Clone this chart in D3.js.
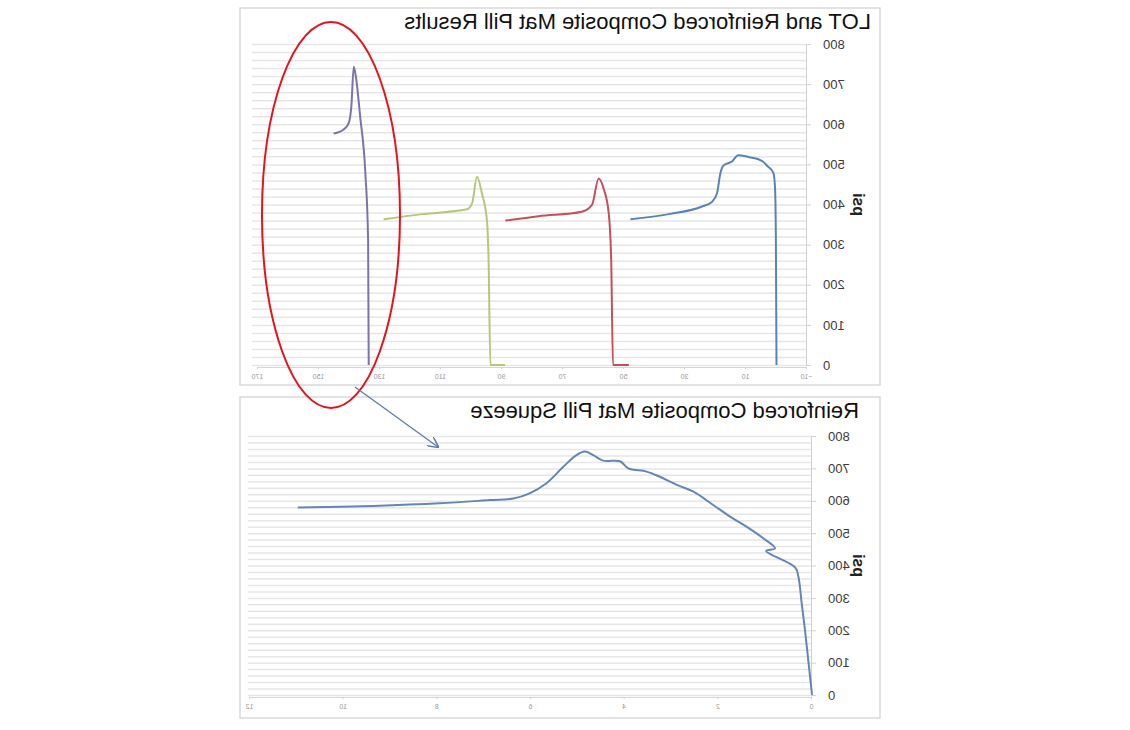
<!DOCTYPE html>
<html>
<head>
<meta charset="utf-8">
<script src="https://cdn.jsdelivr.net/npm/d3@7/dist/d3.min.js"></script>
<style>
  body { margin: 0; background: #fff; }
  text { font-family: "Liberation Sans", Arial, sans-serif; }
</style>
</head>
<body>
<svg id="chart" width="1130" height="730"></svg>
<script>
// values, [x, psi]
const blueRun = [[0,0],[0.2,312],[0.5,444],[1,478],[3,496],[4.8,509],[9,518],[12.6,523],[14.6,507],
  [17.3,498],[18.4,478],[19.5,428],[21.1,407],[24.4,395],[35.3,376],[47.9,363]];
const redRun = [[48.4,0],[53.6,0],[54.2,262],[55,378],[56.7,440],[58.3,465],[60.5,399],[63.8,382],
  [78,371],[88.9,360]];
const greenRun = [[89,0],[93.8,0],[94.4,262],[94.9,357],[96.6,428],[98.2,469],[99.8,403],[101.5,388],
  [116.2,376],[128.8,363]];
const purpleRun = [[133.7,0],[133.9,312],[134.8,478],[136.5,619],[137.9,718],[138.6,743],[139.4,644],
  [140.3,602],[141.9,587],[145.2,577]];

const squeeze = [[0,0],[0.01,15],[0.08,108],[0.15,201],[0.22,283],[0.29,365],[0.36,394],[0.98,445],
  [0.79,453],[1.04,484],[1.4,520],[1.75,551],[2.11,587],[2.53,628],[2.82,645],[3.03,659],[3.25,674],
  [3.53,690],[3.92,700],[4.1,722],[4.46,724],[4.67,741],[4.85,752],[5.03,741],[5.31,705],[5.67,654],
  [6.03,623],[6.38,607],[6.88,602],[7.95,592],[9.37,584],[10.98,579]];

const topXTicks = [-10, 10, 30, 50, 70, 90, 110, 130, 150, 170];
const bottomXTicks = [0, 2, 4, 6, 8, 10, 12];
const psiTicks = [0, 100, 200, 300, 400, 500, 600, 700, 800];

const topTitle = "LOT and Reinforced Composite Mat Pill Results";
const bottomTitle = "Reinforced Composite Mat Pill Squeeze";

const svg = d3.select("#chart");
// the reference is a mirrored copy, so draw normally then flip
const root = svg.append("g").attr("transform", "translate(1130,0) scale(-1,1)");

function panel(cfg) {
  const g = root.append("g");
  g.append("rect")
    .attr("x", cfg.box[0]).attr("y", cfg.box[1])
    .attr("width", cfg.box[2] - cfg.box[0]).attr("height", cfg.box[3] - cfg.box[1])
    .attr("fill", "#fff").attr("stroke", "#cfcfcf").attr("stroke-width", 1.2);

  const x = d3.scaleLinear().domain(cfg.xDomain).range(cfg.xRange);
  const y = d3.scaleLinear().domain([0, 800]).range(cfg.yRange);

  // minor gridlines every 20 psi
  g.append("g")
    .attr("transform", `translate(${cfg.xRange[0]},0)`)
    .call(d3.axisLeft(y).ticks(40).tickSize(-(cfg.gridEnd - cfg.xRange[0])).tickFormat(""))
    .call(a => a.select(".domain").remove())
    .call(a => a.selectAll("line").attr("stroke", "#e6e6e6").attr("stroke-width", 1.5));

  g.append("g")
    .attr("transform", `translate(${cfg.xRange[0]},0)`)
    .call(d3.axisLeft(y).tickValues(psiTicks).tickSize(4).tickPadding(12))
    .call(a => a.select(".domain").attr("stroke", "#d0d0d0"))
    .call(a => a.selectAll("line").attr("stroke", "#d0d0d0"))
    .call(a => a.selectAll("text").attr("font-size", 13).attr("fill", "#3a3a3a"));

  g.append("g")
    .attr("transform", `translate(0,${cfg.yRange[0] + 2})`)
    .call(d3.axisBottom(x).tickValues(cfg.xTicks).tickSize(2).tickPadding(5))
    .call(a => a.select(".domain").attr("stroke", "#d6d6d6"))
    .call(a => a.selectAll("line").attr("stroke", "#d0d0d0"))
    .call(a => a.selectAll("text").attr("font-size", 7).attr("fill", "#9a9a9a"));

  g.append("text")
    .attr("transform", `translate(${cfg.psiX},${(cfg.yRange[0] + cfg.yRange[1]) / 2}) rotate(-90)`)
    .attr("text-anchor", "middle").attr("dominant-baseline", "central")
    .attr("font-size", 16).attr("font-weight", "bold").attr("fill", "#222")
    .text("psi");

  g.append("text")
    .attr("x", cfg.titleX).attr("y", cfg.titleY)
    .attr("font-size", 22).attr("fill", "#111")
    .text(cfg.title);

  const line = d3.line().x(d => x(d[0])).y(d => y(d[1])).curve(cfg.curve);
  cfg.series.forEach(s => {
    g.append("path")
      .datum(s.data)
      .attr("d", line)
      .attr("fill", "none")
      .attr("stroke", s.color)
      .attr("stroke-width", 2)
      .attr("stroke-linejoin", "round");
  });
}

panel({
  box: [250, 8, 890, 385],
  xDomain: [-10, 170], xRange: [323, 872], yRange: [365, 44], gridEnd: 878,
  xTicks: topXTicks,
  psiX: 272, titleX: 259, titleY: 29, title: topTitle,
  curve: d3.curveMonotoneX,
  series: [
    { data: blueRun, color: "#5b82b8" },
    { data: redRun, color: "#c4505a" },
    { data: greenRun, color: "#b4c77a" },
    { data: purpleRun, color: "#7f72aa" }
  ]
});

panel({
  box: [250, 397, 890, 718],
  xDomain: [0, 12], xRange: [318, 880], yRange: [695, 436], gridEnd: 882,
  xTicks: bottomXTicks,
  psiX: 272, titleX: 271, titleY: 418, title: bottomTitle,
  curve: d3.curveCatmullRom.alpha(0.5),
  series: [{ data: squeeze, color: "#6585b5" }]
});

// callout: ellipse round the last run and arrow down to the zoomed view
root.append("ellipse")
  .attr("cx", 799).attr("cy", 215).attr("rx", 69).attr("ry", 193)
  .attr("fill", "none").attr("stroke", "#e3141e").attr("stroke-width", 2);

root.append("defs").append("marker")
  .attr("id", "head").attr("viewBox", "0 0 10 10").attr("refX", 9).attr("refY", 5)
  .attr("markerWidth", 9).attr("markerHeight", 9).attr("orient", "auto")
  .append("path").attr("d", "M0,0 L10,5 L0,10").attr("fill", "none")
  .attr("stroke", "#5a78a8").attr("stroke-width", 1.4);

root.append("line")
  .attr("x1", 775).attr("y1", 387).attr("x2", 692).attr("y2", 447)
  .attr("stroke", "#5a78a8").attr("stroke-width", 1.2)
  .attr("marker-end", "url(#head)");
</script>
</body>
</html>
